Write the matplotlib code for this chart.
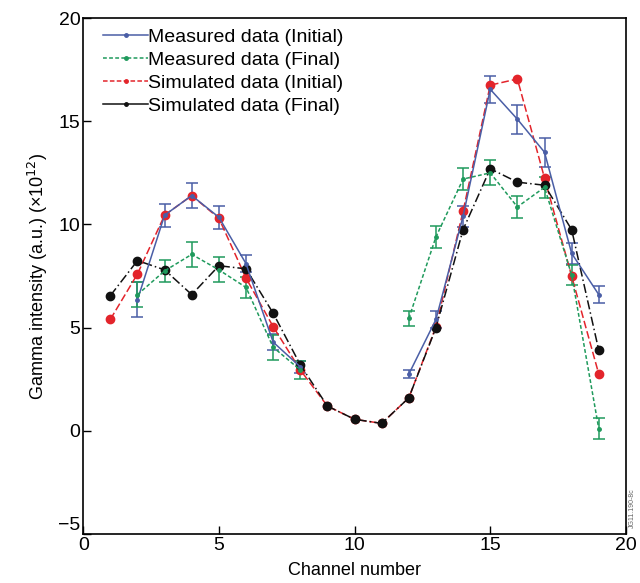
import numpy as np
import matplotlib
matplotlib.use('Agg')
import matplotlib.pyplot as plt
from matplotlib.lines import Line2D

plt.rcParams['font.family'] = ['Liberation Sans', 'DejaVu Sans']

# measured channels (no data for 9-11)
ch_meas = [2, 3, 4, 5, 6, 7, 8, 12, 13, 14, 15, 16, 17, 18, 19]
meas_init = [6.35, 10.45, 11.4, 10.35, 8.1, 4.3, 3.1, 2.75, 5.4, 10.4, 16.55, 15.1, 13.5, 8.6, 6.6]
meas_init_err = [0.85, 0.55, 0.6, 0.55, 0.4, 0.4, 0.3, 0.2, 0.4, 0.5, 0.65, 0.7, 0.7, 0.5, 0.4]
meas_final = [6.6, 7.75, 8.55, 7.8, 6.95, 4.05, 2.95, 5.45, 9.4, 12.2, 12.5, 10.85, 11.8, 7.55, 0.1]
meas_final_err = [0.6, 0.55, 0.6, 0.6, 0.5, 0.6, 0.45, 0.37, 0.52, 0.55, 0.6, 0.55, 0.5, 0.5, 0.5]

# simulated channels
ch_sim = list(range(1, 20))
sim_init = [5.4, 7.6, 10.45, 11.4, 10.3, 7.4, 5.05, 2.95, 1.2, 0.56, 0.36, 1.6,
            5.05, 10.65, 16.75, 17.05, 12.25, 7.5, 2.75]
sim_final = [6.55, 8.25, 7.8, 6.6, 8.0, 7.85, 5.7, 3.2, 1.2, 0.56, 0.36, 1.6,
             5.0, 9.75, 12.7, 12.05, 11.9, 9.75, 3.9]

c_blue = '#4a5ea6'
c_green = '#1f9a5c'
c_red = '#e3242b'

fig = plt.figure(figsize=(6.4, 5.83), dpi=100)
ax = fig.add_axes([0.13, 0.084, 0.848, 0.885])

# split measured data into the two runs so lines don't bridge ch 8 -> 12
segs = [slice(0, 7), slice(7, 15)]
for s in segs:
    ax.errorbar(ch_meas[s], meas_init[s], yerr=meas_init_err[s], color=c_blue, ls='-', lw=1.1,
                marker='o', ms=2.5, capsize=4, elinewidth=1.1, capthick=1.1)
for s in segs:
    ax.errorbar(ch_meas[s], meas_final[s], yerr=meas_final_err[s], color=c_green,
                ls=(0, (2.5, 1.5)), lw=1.1, marker='o', ms=2.5, capsize=4,
                elinewidth=1.1, capthick=1.1)

ax.plot(ch_sim, sim_init, color=c_red, ls=(0, (5, 2)), lw=1.1, marker='o', ms=6)
ax.plot(ch_sim, sim_final, color='#111111', ls=(0, (6, 2, 1, 2)), lw=1.1, marker='o', ms=6)

ax.set_xlim(0, 20)
ax.set_ylim(-5, 20)
ax.set_xticks([0, 5, 10, 15, 20])
ax.set_yticks([-5, 0, 5, 10, 15, 20])
ax.tick_params(direction='in', length=6, labelsize=14, width=1, pad=2)
for sp in ax.spines.values():
    sp.set_linewidth(1.2)
ax.set_xlabel('Channel number', fontsize=13, labelpad=6)
ax.set_ylabel('Gamma intensity (a.u.) (×10$^{12}$)', fontsize=13, labelpad=6)

# the -5 label sits just above the corner, clear of the x "0"
fig.canvas.draw()
ax.get_yticklabels()[0].set_verticalalignment('bottom')

# legend handles: simple lines with tiny markers
handles = [
    Line2D([], [], color=c_blue, ls='-', lw=1.1, marker='o', ms=2.5),
    Line2D([], [], color=c_green, ls=(0, (2.5, 1.5)), lw=1.1, marker='o', ms=2.5),
    Line2D([], [], color=c_red, ls=(0, (3, 1.5)), lw=1.1, marker='o', ms=2.5),
    Line2D([], [], color='#111111', ls='-', lw=1.1, marker='o', ms=2.5),
]
labels = ['Measured data (Initial)', 'Measured data (Final)',
          'Simulated data (Initial)', 'Simulated data (Final)']
ax.legend(handles, labels, loc='upper left', frameon=False, fontsize=14,
          handlelength=2.3, handletextpad=0.0, labelspacing=0.28,
          borderaxespad=0.0, bbox_to_anchor=(0.023, 0.995))

fig.text(0.988, 0.095, 'JG11.190-8c', rotation=90, fontsize=5, color='#666666',
         ha='center', va='bottom')

fig.savefig('out.png', dpi=100)
